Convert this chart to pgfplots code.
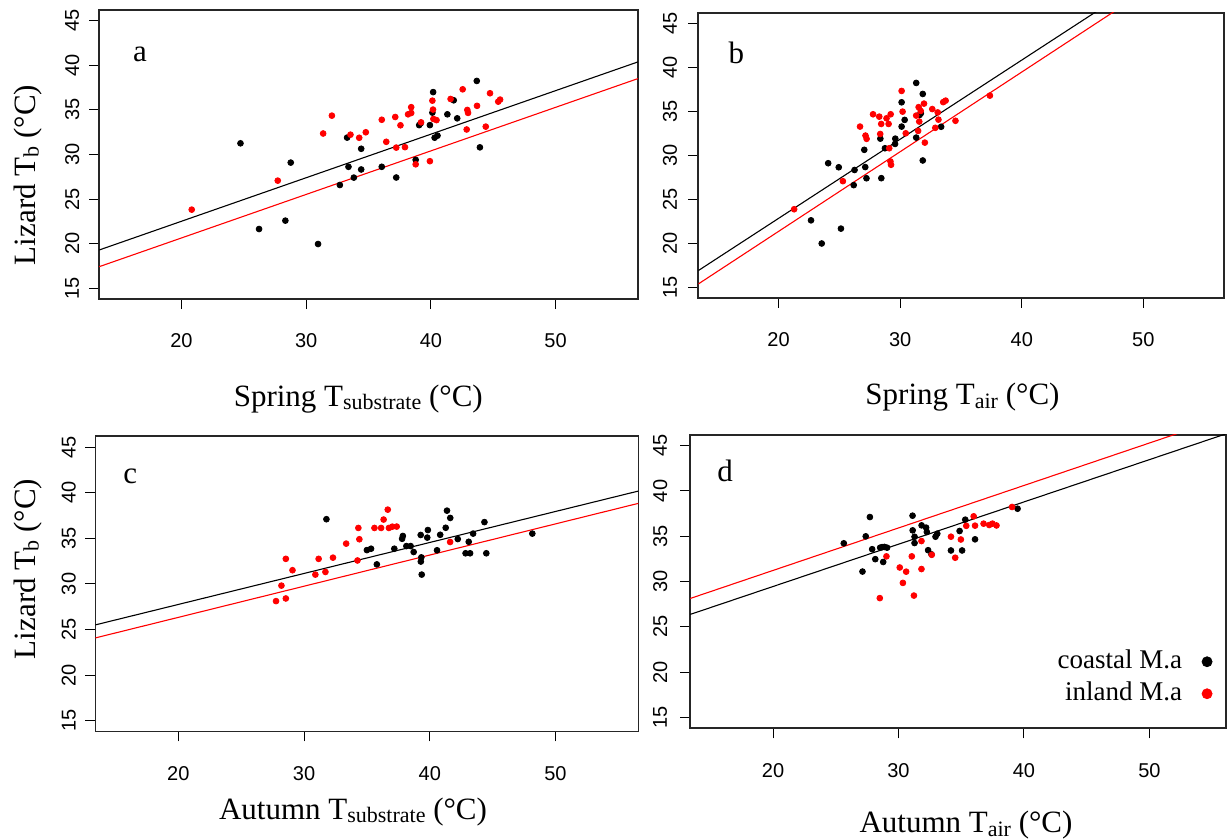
\documentclass[border=0pt]{standalone}
\usepackage{fontspec}
\setmainfont{Liberation Serif}
\newfontfamily\tickfont{Liberation Sans}
\usepackage{pgfplots}
\pgfplotsset{compat=1.18}
\newcommand{\sub}[1]{\raisebox{-1.6pt}{\fontsize{11pt}{11pt}\selectfont #1}}
\newcommand{\bigfont}{\fontsize{15.5pt}{17pt}\selectfont}
\pgfplotsset{
  panel/.style={
    scale only axis, xmin=13.4, xmax=56.6, ymin=13.8, ymax=46.2,
    xtick={20,30,40,50}, ytick={15,20,25,30,35,40,45},
    tick pos=left,
    tick align=outside, major tick length=5pt,
    tick style={black, line width=0.5pt},
    axis line style={line width=0.9pt, black!85},
    /pgf/number format/assume math mode=true,
    ticklabel style={font=\tickfont\fontsize{10pt}{12pt}\selectfont},
    xticklabel style={anchor=center, yshift=-16pt},
    yticklabel style={anchor=center, rotate=90},
    yticklabel shift=#1,
  },
  blk/.style={only marks, mark=*, mark size=1.45pt, black, mark options={draw=black, fill=black}},
  rd/.style={only marks, mark=*, mark size=1.45pt, red, mark options={draw=red, fill=red}},
  bline/.style={black, line width=0.55pt, forget plot},
  rline/.style={red, line width=0.55pt, forget plot},
}
\begin{document}
\begin{tikzpicture}
\useasboundingbox (0,0) rectangle (613.5pt,419.5pt);
% ---------- a ----------
\begin{axis}[panel=8.5pt, at={(49.6pt,269.95pt)}, anchor=south west, width=269.35pt, height=144.6pt]
\addplot[blk] coordinates {(24.73,31.25) (28.76,29.09) (26.22,21.65) (28.33,22.59) (30.95,19.97) (33.28,31.89) (33.39,28.62) (34.41,30.64) (34.41,28.32) (33.82,27.41) (32.70,26.58) (36.06,28.62) (37.22,27.42) (38.78,29.40) (39.06,33.29) (39.18,33.50) (39.92,33.29) (40.12,34.69) (40.18,36.99) (40.30,31.88) (40.53,32.11) (41.32,34.50) (41.83,36.07) (42.11,34.05) (43.68,38.24) (43.93,30.80)};
\addplot[rd] coordinates {(20.82,23.82) (27.72,27.07) (31.36,32.35) (32.06,34.35) (33.55,32.22) (34.25,31.87) (34.78,32.49) (36.06,33.89) (36.42,31.42) (37.14,34.20) (37.56,33.27) (37.22,30.77) (37.92,30.82) (38.17,34.50) (38.42,34.65) (38.42,35.30) (39.21,33.60) (38.78,28.90) (39.92,29.25) (40.12,36.03) (40.17,35.03) (40.20,33.98) (40.45,33.85) (41.58,36.22) (42.55,37.30) (42.92,34.99) (42.98,34.66) (42.87,32.80) (43.70,35.45) (44.40,33.12) (44.74,36.86) (45.40,35.92) (45.55,36.15)};
\addplot[bline] coordinates {(13.4,19.30) (56.6,40.37)};
\addplot[rline] coordinates {(13.4,17.43) (56.6,38.50)};
\end{axis}
% ---------- b ----------
\begin{axis}[panel=9.15pt, at={(349.15pt,270.55pt)}, anchor=south west, width=262.65pt, height=142.6pt]
\addplot[blk] coordinates {(22.67,22.61) (23.55,19.98) (24.08,29.10) (24.95,28.64) (25.13,21.67) (26.25,28.33) (26.18,26.61) (27.05,30.62) (27.13,28.66) (27.23,27.39) (28.37,31.89) (28.45,27.40) (28.75,30.80) (29.60,31.89) (29.58,31.29) (30.12,36.02) (30.12,33.26) (30.37,34.02) (31.32,38.22) (31.32,32.01) (31.60,34.58) (31.70,34.77) (31.86,36.97) (31.86,29.41) (33.37,33.24)};
\addplot[rd] coordinates {(21.28,23.87) (25.29,27.06) (26.70,33.26) (27.15,32.24) (27.24,31.87) (27.77,34.66) (28.28,34.39) (28.36,32.42) (28.44,33.56) (28.88,34.20) (29.05,33.56) (29.22,34.66) (29.10,30.80) (29.20,29.30) (29.25,28.92) (30.12,37.31) (30.20,34.96) (30.46,32.50) (31.32,34.51) (31.52,35.47) (31.48,32.77) (31.57,33.83) (31.69,35.04) (31.96,35.87) (32.03,31.44) (32.64,35.25) (32.89,33.12) (33.09,34.87) (33.15,34.05) (33.54,36.04) (33.74,36.21) (34.55,33.92) (37.38,36.78)};
\addplot[bline] coordinates {(13.4,16.90) (56.6,55.74)};
\addplot[rline] coordinates {(13.4,15.38) (56.6,54.48)};
\end{axis}
% ---------- c ----------
\begin{axis}[panel=8.3pt, at={(47.7pt,53.75pt)}, anchor=south west, width=271.5pt, height=147.6pt]
\addplot[blk] coordinates {(31.78,37.10) (35.00,33.71) (35.33,33.86) (35.79,32.14) (37.18,33.86) (37.80,34.95) (37.86,35.26) (38.14,34.15) (38.48,34.15) (38.72,33.50) (39.28,35.37) (39.29,32.45) (39.33,32.91) (39.36,31.02) (39.80,35.08) (39.85,35.91) (40.58,33.69) (40.83,35.39) (41.27,36.16) (41.37,38.04) (41.63,37.24) (42.23,34.92) (43.10,34.62) (42.85,33.36) (43.21,33.36) (43.45,35.52) (44.35,36.78) (44.50,33.36) (48.16,35.52)};
\addplot[rd] coordinates {(27.77,28.11) (28.55,28.40) (28.20,29.81) (28.55,32.75) (29.08,31.50) (30.90,31.02) (31.16,32.75) (31.70,31.31) (32.30,32.88) (33.35,34.42) (34.25,32.57) (34.32,36.14) (34.40,34.90) (35.60,36.14) (36.13,36.14) (36.33,37.06) (36.66,38.15) (36.75,36.14) (37.02,36.28) (37.37,36.29) (41.62,34.60)};
\addplot[bline] coordinates {(13.4,25.50) (56.6,40.19)};
\addplot[rline] coordinates {(13.4,24.07) (56.6,38.84)};
\end{axis}
% ---------- d ----------
\begin{axis}[panel=10pt, at={(345.1pt,55.35pt)}, anchor=south west, width=267.9pt, height=146.75pt, xmax=56.1,
  legend style={draw=none, fill=none, inner sep=0pt, outer sep=0pt,
    at={(axis description cs:0.974,0.07)}, anchor=south east,
    font=\fontsize{13.5pt}{14pt}\selectfont,
    nodes={inner sep=1pt, text height=9.5pt, text depth=2.5pt},
    /tikz/column sep=9pt, /tikz/row sep=2pt},
  legend cell align=right, legend plot pos=right,
  legend image code/.code={\draw[mark size=2.5pt] plot coordinates {(0cm,0cm)};}]
\addplot[blk] coordinates {(25.64,34.22) (27.13,31.10) (27.39,34.99) (27.72,37.12) (27.90,33.57) (28.15,32.47) (28.54,33.74) (28.70,33.80) (28.78,32.16) (28.88,33.82) (29.09,33.74) (31.12,37.27) (31.13,35.65) (31.28,34.94) (31.28,34.25) (31.84,36.20) (32.20,35.95) (32.26,35.47) (32.36,33.46) (32.63,33.00) (32.95,34.95) (33.09,35.28) (34.18,33.43) (34.87,35.58) (35.07,33.43) (35.32,36.83) (36.10,34.66) (39.49,38.04)};
\addlegendentry{coastal M.a}
\addplot[rd] coordinates {(28.51,28.17) (29.04,32.78) (30.10,31.55) (30.35,29.85) (30.61,31.09) (31.06,32.78) (31.23,28.45) (31.83,34.47) (31.83,31.38) (32.65,32.95) (34.18,34.95) (34.52,32.63) (34.97,34.64) (35.40,36.15) (35.99,37.20) (36.10,36.17) (36.78,36.39) (37.23,36.24) (37.49,36.39) (37.81,36.19) (39.05,38.23)};
\addlegendentry{inland M.a}
\addplot[bline] coordinates {(13.4,26.37) (56.6,46.54)};
\addplot[rline] coordinates {(13.4,28.13) (56.6,48.39)};
\end{axis}
% ---------- texts ----------
\node[anchor=base, font=\bigfont] at (69.95pt,388.65pt) {a};
\node[anchor=base, font=\bigfont] at (368.2pt,387.5pt) {b};
\node[anchor=base, font=\bigfont] at (65.15pt,177.85pt) {c};
\node[anchor=base, font=\bigfont] at (362.6pt,178.65pt) {d};
\node[anchor=base, font=\bigfont] at (179.15pt,216.15pt) {Spring T\sub{substrate} (°C)};
\node[anchor=base, font=\bigfont] at (481.25pt,217pt) {Spring T\sub{air} (°C)};
\node[anchor=base, font=\bigfont] at (176.5pt,9.85pt) {Autumn T\sub{substrate} (°C)};
\node[anchor=base, font=\bigfont] at (483pt,3pt) {Autumn T\sub{air} (°C)};
\node[rotate=90, font=\bigfont] at (14pt,332pt) {Lizard T\sub{b} (°C)};
\node[rotate=90, font=\bigfont] at (14pt,135pt) {Lizard T\sub{b} (°C)};
\end{tikzpicture}
\end{document}
